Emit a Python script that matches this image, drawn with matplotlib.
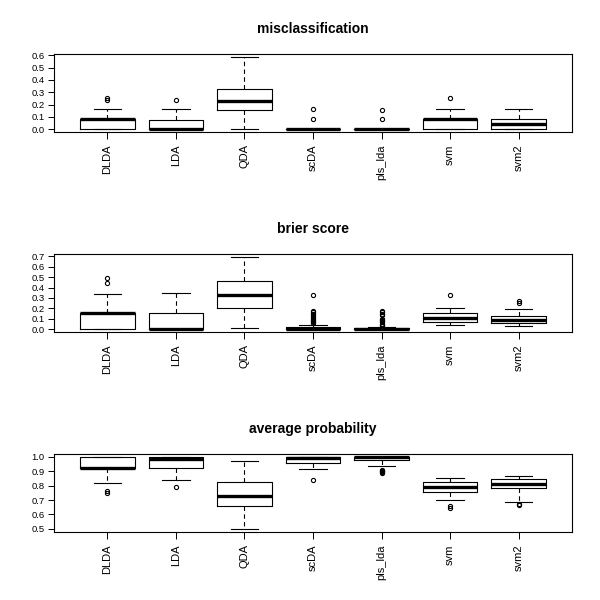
import matplotlib
matplotlib.use("Agg")
import matplotlib.pyplot as plt
import numpy as np

plt.rcParams["font.family"] = ["Liberation Sans", "DejaVu Sans"]

# ── data: box statistics ─────────────────────────────────────────────────────
methods = ["DLDA", "LDA", "QDA", "scDA", "pls_lda", "svm", "svm2"]

# misclassification
mis_whislo = [0.0, 0.0, 0.0, 0.0, 0.0, 0.0, 0.0]
mis_q1     = [0.0, 0.0, 0.155, 0.0, 0.0, 0.0, 0.0]
mis_med    = [0.083, 0.0, 0.23, 0.0, 0.0, 0.083, 0.04]
mis_q3     = [0.083, 0.078, 0.33, 0.0, 0.0, 0.083, 0.083]
mis_whishi = [0.167, 0.167, 0.587, 0.0, 0.0, 0.167, 0.167]
mis_fliers = [[0.25, 0.233], [0.233], [], [0.083, 0.167],
              [0.083, 0.155], [0.25], []]

# brier score
bri_whislo = [0.0, 0.0, 0.008, 0.0, 0.0, 0.04, 0.028]
bri_q1     = [0.0, 0.0, 0.206, 0.0, 0.0, 0.07, 0.057]
bri_med    = [0.157, 0.0, 0.324, 0.005, 0.003, 0.108, 0.092]
bri_q3     = [0.157, 0.152, 0.467, 0.022, 0.01, 0.155, 0.124]
bri_whishi = [0.334, 0.35, 0.695, 0.04, 0.018, 0.2, 0.197]
bri_fliers = [[0.49, 0.445], [], [],
              [0.06, 0.07, 0.08, 0.09, 0.10, 0.12, 0.14, 0.15, 0.16, 0.17, 0.33],
              [0.03, 0.04, 0.05, 0.07, 0.08, 0.09, 0.10, 0.14, 0.15, 0.16, 0.17],
              [0.33], [0.267, 0.254]]

# average probability
avg_whislo = [0.817, 0.836, 0.498, 0.919, 0.94, 0.70, 0.688]
avg_q1     = [0.924, 0.924, 0.66, 0.958, 0.975, 0.759, 0.782]
avg_med    = [0.924, 0.988, 0.725, 0.99, 0.997, 0.789, 0.812]
avg_q3     = [1.0, 0.998, 0.824, 0.998, 0.999, 0.823, 0.844]
avg_whishi = [1.0, 1.0, 0.972, 1.0, 1.0, 0.855, 0.869]
avg_fliers = [[0.765, 0.75], [0.79], [], [0.836],
              [0.91, 0.905, 0.90, 0.895, 0.89], [0.662, 0.648], [0.675, 0.668]]

panels = [
    ("misclassification", mis_whislo, mis_q1, mis_med, mis_q3, mis_whishi,
     mis_fliers, np.arange(0, 0.61, 0.1)),
    ("brier score", bri_whislo, bri_q1, bri_med, bri_q3, bri_whishi,
     bri_fliers, np.arange(0, 0.71, 0.1)),
    ("average probability", avg_whislo, avg_q1, avg_med, avg_q3, avg_whishi,
     avg_fliers, np.arange(0.5, 1.01, 0.1)),
]

# ── figure ───────────────────────────────────────────────────────────────────
fig = plt.figure(figsize=(6, 6), dpi=100)
tops = [54, 254, 454]   # axes top in px
ax_l, ax_w, ax_h = 54, 518, 78
for (title, wlo, q1, med, q3, whi, fl, yt), top in zip(panels, tops):
    ax = fig.add_axes([ax_l / 600, 1 - (top + ax_h) / 600, ax_w / 600, ax_h / 600])
    stats = []
    for i in range(len(methods)):
        stats.append(dict(whislo=wlo[i], q1=q1[i], med=med[i], q3=q3[i],
                          whishi=whi[i], fliers=fl[i], label=methods[i]))
    ax.bxp(stats, positions=range(1, 8), widths=0.8, capwidths=0.4,
           boxprops=dict(color="black", lw=0.8),
           whiskerprops=dict(color="black", lw=0.8, ls=(0, (4, 3))),
           capprops=dict(color="black", lw=0.8),
           medianprops=dict(color="black", lw=2.4, solid_capstyle="butt"),
           flierprops=dict(marker="o", markersize=3, markerfacecolor="none",
                           markeredgecolor="black", markeredgewidth=0.8))
    lo = min(min(wlo), min(min(f) if f else 9 for f in fl))
    hi = max(max(whi), max(max(f) if f else -9 for f in fl))
    pad = (hi - lo) * 0.04
    ax.set_ylim(lo - pad, hi + pad)
    ax.set_xlim(0.22, 7.78)
    ax.set_yticks(yt)
    ax.set_yticklabels([f"{v:.1f}" for v in yt], fontsize=6.8)
    ax.set_xticks(range(1, 8))
    ax.set_xticklabels(methods, rotation=90, fontsize=8)
    ax.tick_params(axis="y", length=4.3, width=0.7, pad=2.5)
    ax.tick_params(axis="x", length=4.8, width=0.7, pad=4)
    for s in ax.spines.values():
        s.set_linewidth(0.8)
    ax.set_title(title, fontsize=10, fontweight="bold", pad=15)

fig.savefig("out.png", dpi=100)
